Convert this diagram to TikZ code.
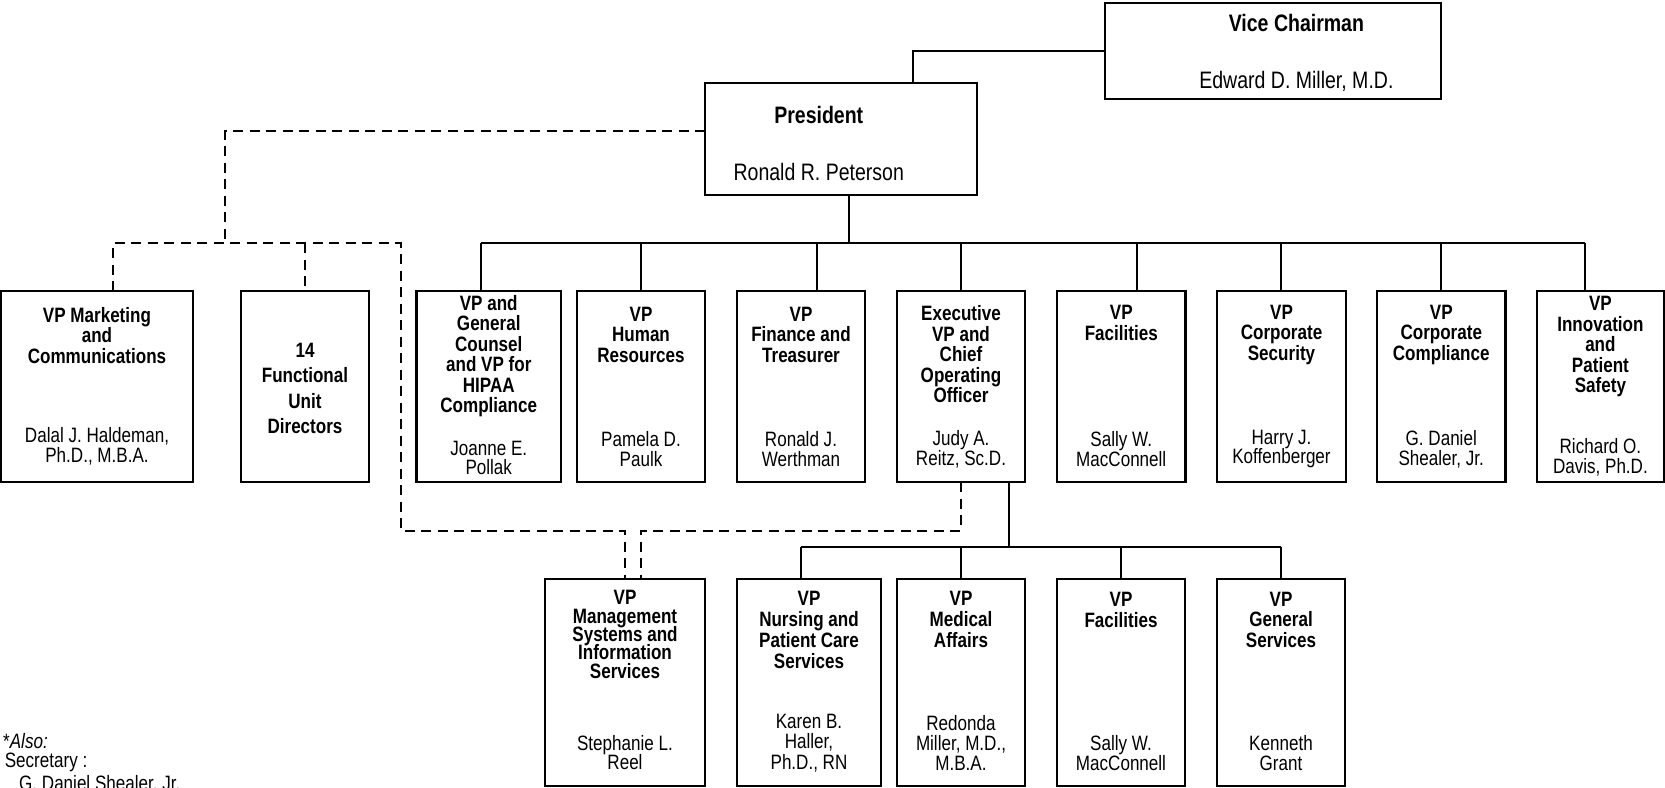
\documentclass[tikz,border=0pt]{standalone}
\usepackage{fontspec}
\setmainfont{Liberation Sans}[FakeStretch=0.82]
\begin{document}
\lineskiplimit=-30pt
\begin{tikzpicture}[x=1pt,y=-1pt,
  box/.style={draw, line width=2.2pt, inner sep=0pt, outer sep=0pt},
  ln/.style={line width=2pt},
  dl/.style={line width=2pt, dash pattern=on 10pt off 6.5pt},
  ttlb/.style={font=\bfseries\fontsize{23.8}{24}\selectfont, inner sep=0pt},
  nmb/.style={font=\fontsize{23.8}{24}\selectfont, inner sep=0pt},
  ttl/.style={font=\bfseries\fontsize{20.8}{20.5}\selectfont, align=center, inner sep=0pt},
  nm/.style={font=\fontsize{20.8}{19.8}\selectfont, align=center, inner sep=0pt},
  foot/.style={font=\fontsize{20.8}{20}\selectfont, inner sep=0pt, anchor=west},
]
\useasboundingbox (0,0) rectangle (1665,787);

% ---- boxes
\node[box, minimum width=336pt, minimum height=96pt] (vc) at (1273,51) {};
\node[box, minimum width=272pt, minimum height=112pt] (pres) at (841,139) {};

\node[box, minimum width=192pt, minimum height=191pt] (mkt) at (97,386.5) {};
\node[box, minimum width=128pt, minimum height=191pt] (func) at (305,386.5) {};
\node[box, minimum width=144.5pt, minimum height=191pt] (gen) at (488.75,386.5) {};
\node[box, minimum width=128pt, minimum height=191pt] (hr) at (641,386.5) {};
\node[box, minimum width=128pt, minimum height=191pt] (fin) at (801,386.5) {};
\node[box, minimum width=128pt, minimum height=191pt] (exec) at (961,386.5) {};
\node[box, minimum width=128.5pt, minimum height=191pt] (fac) at (1121.25,386.5) {};
\node[box, minimum width=129pt, minimum height=191pt] (sec) at (1281.5,386.5) {};
\node[box, minimum width=128.5pt, minimum height=191pt] (comp) at (1441.25,386.5) {};
\node[box, minimum width=127.3pt, minimum height=191pt] (innov) at (1600.4,386.5) {};

\node[box, minimum width=160pt, minimum height=207pt] (mgmt) at (625,682.5) {};
\node[box, minimum width=144pt, minimum height=207pt] (nurs) at (809,682.5) {};
\node[box, minimum width=128pt, minimum height=207pt] (med) at (961,682.5) {};
\node[box, minimum width=128.3pt, minimum height=207pt] (facb) at (1121,682.5) {};
\node[box, minimum width=128pt, minimum height=207pt] (gsv) at (1281,682.5) {};

% ---- texts
\node[ttlb] (tvc) at (1296.4,23.3) {Vice Chairman};
\node[nmb] (nvc) at (1296.4,81.7) {Edward D. Miller, M.D.};
\node[ttlb] (tpres) at (818.75,115) {President};
\node[nmb] (npres) at (818.75,171.7) {Ronald R. Peterson};

\node[ttl] (tmkt) at (97,335.5) {VP Marketing\\and\\Communications};
\node[nm] (nmkt) at (97,446) {Dalal J. Haldeman,\\Ph.D., M.B.A.};
\node[ttl, font=\bfseries\fontsize{20.8}{25.3}\selectfont] (tfunc) at (305,388.5) {14\\Functional\\Unit\\Directors};
\node[ttl] (tgen) at (488.75,356.3) {VP and\\General\\Counsel\\and VP for\\HIPAA\\Compliance};
\node[nm] (ngen) at (488.75,458) {Joanne E.\\Pollak};
\node[ttl] (thr) at (641,334.5) {VP\\Human\\Resources};
\node[nm] (nhr) at (641,449) {Pamela D.\\Paulk};
\node[ttl] (tfin) at (801,334.5) {VP\\Finance and\\Treasurer};
\node[nm] (nfin) at (801,449) {Ronald J.\\Werthman};
\node[ttl] (texec) at (961,354.5) {Executive\\VP and\\Chief\\Operating\\Officer};
\node[nm] (nexec) at (961,449) {Judy A.\\Reitz, Sc.D.};
\node[ttl] (tfac) at (1121.25,323) {VP\\Facilities};
\node[nm] (nfac) at (1121.25,449) {Sally W.\\MacConnell};
\node[ttl] (tsec) at (1281.5,334.5) {VP\\Corporate\\Security};
\node[nm] (nsec) at (1281.5,449) {Harry J.\\Koffenberger};
\node[ttl] (tcomp) at (1441.25,334.5) {VP\\Corporate\\Compliance};
\node[nm] (ncomp) at (1441.25,449) {G. Daniel\\Shealer, Jr.};
\node[ttl] (tinnov) at (1600.4,346.5) {VP\\Innovation\\and\\Patient\\Safety};
\node[nm] (ninnov) at (1600.4,457) {Richard O.\\Davis, Ph.D.};

\node[ttl, font=\bfseries\fontsize{20.8}{18.4}\selectfont] (tmgmt) at (625,634.5) {VP\\Management\\Systems and\\Information\\Services};
\node[nm, font=\fontsize{20.8}{18.4}\selectfont] (nmgmt) at (625,752.5) {Stephanie L.\\Reel};
\node[ttl, font=\bfseries\fontsize{20.8}{21}\selectfont] (tnurs) at (809,630) {VP\\Nursing and\\Patient Care\\Services};
\node[nm, font=\fontsize{20.8}{20.3}\selectfont] (nnurs) at (809,743) {Karen B.\\Haller,\\Ph.D., RN};
\node[ttl, font=\bfseries\fontsize{20.8}{21}\selectfont] (tmed) at (961,619) {VP\\Medical\\Affairs};
\node[nm, font=\fontsize{20.8}{20.3}\selectfont] (nmed) at (961,743) {Redonda\\Miller, M.D.,\\M.B.A.};
\node[ttl, font=\bfseries\fontsize{20.8}{20.5}\selectfont] (tfacb) at (1121,610) {VP\\Facilities};
\node[nm, font=\fontsize{20.8}{19.4}\selectfont] (nfacb) at (1121,753) {Sally W.\\MacConnell};
\node[ttl, font=\bfseries\fontsize{20.8}{20.5}\selectfont] (tgsv) at (1281,619.7) {VP\\General\\Services};
\node[nm, font=\fontsize{20.8}{19.4}\selectfont] (ngsv) at (1281,753) {Kenneth\\Grant};

\node[foot] (falso) at (3,741) {*\textit{Also:}};
\node[foot] (fsec) at (4.6,762) {Secretary :};
\node[foot] (fgds) at (19,784) {G. Daniel Shealer, Jr.};

% ---- solid connectors
\coordinate (cvc) at (913,51);
\draw[ln] (cvc |- pres.north) |- (vc.west);
\coordinate (busP) at (848.7,243.3);
\coordinate (busL) at (480.7,243.3);
\coordinate (busR) at (1585,243.3);
\draw[ln] (busP |- pres.south) -- (busP);
\draw[ln] (busL) -- (busR);
\foreach \x/\n in {480.7/gen, 641/hr, 817/fin, 961/exec, 1137/fac, 1281/sec, 1441/comp, 1585/innov}{
  \coordinate (d\n) at (\x,243.3);
  \draw[ln] (d\n) -- (d\n |- \n.north);
}
\coordinate (exd) at (1009,546.7);
\coordinate (bbL) at (801,546.7);
\coordinate (bbR) at (1281,546.7);
\draw[ln] (exd |- exec.south) -- (exd);
\draw[ln] (bbL) -- (bbR);
\foreach \x/\n in {801/nurs, 961/med, 1121/facb, 1281/gsv}{
  \coordinate (e\n) at (\x,546.7);
  \draw[ln] (e\n) -- (e\n |- \n.north);
}

% ---- dashed connectors
\coordinate (dp1) at (225,131);
\coordinate (dp2) at (225,243.3);
\draw[dl] (dp1 -| pres.west) -- (dp1) -- (dp2);
\coordinate (dm) at (113,243.3);
\coordinate (dr) at (401,243.3);
\coordinate (dr2) at (401,530.7);
\coordinate (dmg) at (625,530.7);
\draw[dl] (dm |- mkt.north) -- (dm) -- (dr) -- (dr2) -- (dmg) -- (dmg |- mgmt.north);
\coordinate (dfu) at (305,243.3);
\draw[dl] (dfu) -- (dfu |- func.north);
\coordinate (dx1) at (961,530.7);
\coordinate (dx2) at (641,530.7);
\draw[dl] (exec.south) -- (dx1) -- (dx2) -- (dx2 |- mgmt.north);
\end{tikzpicture}
\end{document}
